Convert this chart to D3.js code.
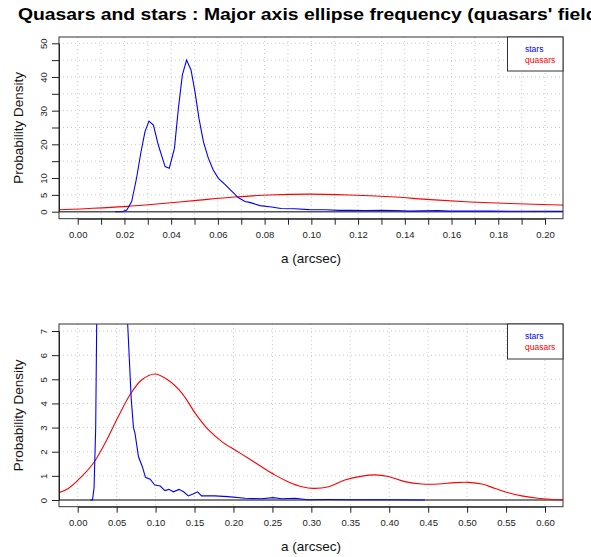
<!DOCTYPE html>
<html>
<head>
<meta charset="utf-8">
<script src="https://cdn.jsdelivr.net/npm/d3@7"></script>
<style>
  body { margin: 0; background: #fff; }
  text { font-family: 'Liberation Sans', Arial, sans-serif; }
</style>
</head>
<body>
<div id="chart"></div>
<script>
// stars density (same curve in both panels)
const starsA = [0.016, 0.019, 0.021, 0.0231, 0.0252, 0.0271, 0.0288, 0.0305, 0.0324, 0.0345, 0.0374, 0.0392,
  0.0414, 0.0431, 0.0448, 0.0466, 0.0485, 0.0502, 0.0519, 0.0538, 0.0559, 0.058, 0.0602, 0.063, 0.0659, 0.0687,
  0.0716, 0.0736, 0.078, 0.083, 0.087, 0.093, 0.099, 0.106, 0.112, 0.117, 0.123, 0.13, 0.136, 0.142, 0.148,
  0.154, 0.159, 0.176, 0.193, 0.215, 0.236, 0.251, 0.262, 0.279, 0.296, 0.32, 0.36, 0.4, 0.446]
const starsD = [0, 0, 0.5, 3, 10, 17.8, 23.8, 26.9, 25.7, 19.8, 13.4, 12.9,
  18.8, 30.7, 40.6, 45, 42.1, 35.6, 27.7, 20.8, 15.9, 12.4, 9.9, 8.1, 6.1, 4.2,
  3.0, 2.76, 1.8, 1.38, 0.94, 0.86, 0.62, 0.58, 0.39, 0.44, 0.34, 0.44, 0.34, 0.17, 0.25,
  0.34, 0.17, 0.17, 0.14, 0.07, 0.05, 0.1, 0.05, 0.07, 0.01, 0.02, 0.01, 0.01, 0]

// quasars density
const quasarsA = [-0.029, -0.012, 0.005, 0.02, 0.035, 0.052, 0.067, 0.082, 0.099, 0.116, 0.134, 0.151, 0.168,
  0.185, 0.202, 0.219, 0.236, 0.253, 0.27, 0.288, 0.303, 0.322, 0.343, 0.365, 0.382, 0.399, 0.42, 0.442,
  0.463, 0.484, 0.502, 0.519, 0.536, 0.553, 0.57, 0.591, 0.617, 0.625]
const quasarsD = [0.25, 0.48, 0.97, 1.52, 2.35, 3.45, 4.35, 4.97, 5.22, 4.97, 4.42, 3.59, 2.9,
  2.42, 2.07, 1.73, 1.38, 1.04, 0.76, 0.55, 0.48, 0.55, 0.83, 0.99, 1.04, 0.97, 0.76, 0.66,
  0.66, 0.72, 0.73, 0.66, 0.48, 0.3, 0.17, 0.07, 0.01, 0.005]

const topXTicks = d3.range(0, 21).map((i) => i / 100)
const topYTicks = d3.range(0, 11).map((i) => i * 5)
const topYLabels = [0, 5, 10, 20, 30, 40, 50]
const botXTicks = d3.range(0, 13).map((i) => i * 0.05)
const botYTicks = d3.range(0, 8)

const title = "Quasars and stars : Major axis ellipse frequency (quasars' field)"
const xTitle = 'a (arcsec)'
const yTitle = 'Probability Density'
const legendNames = ['stars', 'quasars']
const COLORS = { stars: '#0000ff', quasars: '#ff0000' }

const W = 591
const H = 557
const BOX_L = 59
const BOX_R = 563

const svg = d3.select('#chart').append('svg').attr('width', W).attr('height', H)
svg.append('rect').attr('width', W).attr('height', H).attr('fill', '#fff')

// title is wider than the page in the original, so it runs off the right edge
svg
  .append('text')
  .attr('x', (BOX_L + BOX_R) / 2)
  .attr('y', 20)
  .attr('text-anchor', 'middle')
  .attr('font-size', 17)
  .attr('font-weight', 'bold')
  .attr('fill', '#000')
  .attr('textLength', 586)
  .attr('lengthAdjust', 'spacingAndGlyphs')
  .text(title)

const stars = starsA.map((a, i) => ({ a, d: starsD[i] }))
const quasars = quasarsA.map((a, i) => ({ a, d: quasarsD[i] }))

const drawPanel = (cfg) => {
  const { id, x, y, boxTop, boxBottom, xTicks, yTicks, yLabels, xFmt } = cfg
  const g = svg.append('g')

  g.append('clipPath')
    .attr('id', id)
    .append('rect')
    .attr('x', BOX_L)
    .attr('y', boxTop)
    .attr('width', BOX_R - BOX_L)
    .attr('height', boxBottom - boxTop)

  // dotted grid
  g.selectAll('.vg')
    .data(xTicks)
    .join('line')
    .attr('x1', (d) => x(d))
    .attr('x2', (d) => x(d))
    .attr('y1', boxTop)
    .attr('y2', boxBottom)
    .attr('stroke', '#c8c8c8')
    .attr('stroke-dasharray', '1,3')
  g.selectAll('.hg')
    .data(yTicks.filter((d) => d > 0))
    .join('line')
    .attr('x1', BOX_L)
    .attr('x2', BOX_R)
    .attr('y1', (d) => y(d))
    .attr('y2', (d) => y(d))
    .attr('stroke', '#c8c8c8')
    .attr('stroke-dasharray', '1,3')

  // zero line
  g.append('line')
    .attr('x1', BOX_L)
    .attr('x2', BOX_R)
    .attr('y1', y(0))
    .attr('y2', y(0))
    .attr('stroke', '#555')
    .attr('stroke-width', 1.6)

  const line = d3
    .line()
    .x((d) => x(d.a))
    .y((d) => y(d.d))

  const curves = g.append('g').attr('clip-path', `url(#${id})`)
  curves
    .append('path')
    .attr('d', line.curve(d3.curveCatmullRom)(quasars))
    .attr('fill', 'none')
    .attr('stroke', COLORS.quasars)
    .attr('stroke-width', 1.1)
  curves
    .append('path')
    .attr('d', line.curve(d3.curveLinear)(stars))
    .attr('fill', 'none')
    .attr('stroke', COLORS.stars)
    .attr('stroke-width', 1.1)

  // box
  g.append('rect')
    .attr('x', BOX_L)
    .attr('y', boxTop)
    .attr('width', BOX_R - BOX_L)
    .attr('height', boxBottom - boxTop)
    .attr('fill', 'none')
    .attr('stroke', '#333')

  // axes
  const xAxis = g
    .append('g')
    .attr('transform', `translate(0,${boxBottom})`)
    .call(d3.axisBottom(x).tickValues(xTicks).tickFormat(xFmt).tickSize(6).tickSizeOuter(0).tickPadding(7))
  xAxis.select('.domain').attr('stroke', '#222')
  xAxis.selectAll('.tick line').attr('stroke', '#222')
  xAxis.selectAll('.tick text').attr('font-size', 9.5).attr('fill', '#222').attr('font-family', null)

  const yAxis = g
    .append('g')
    .attr('transform', `translate(${BOX_L},0)`)
    .call(
      d3
        .axisLeft(y)
        .tickValues(yTicks)
        .tickFormat((d) => (yLabels.includes(d) ? d : ''))
        .tickSize(7)
        .tickSizeOuter(0)
    )
  yAxis.select('.domain').attr('stroke', '#222')
  yAxis.selectAll('.tick line').attr('stroke', '#222')
  yAxis
    .selectAll('.tick text')
    .attr('x', null)
    .attr('dy', null)
    .attr('text-anchor', 'middle')
    .attr('transform', 'translate(-12,0) rotate(-90)')
    .attr('font-size', 9.5)
    .attr('fill', '#222')
    .attr('font-family', null)

  // titles
  g.append('text')
    .attr('x', (BOX_L + BOX_R) / 2)
    .attr('y', cfg.xTitleY)
    .attr('text-anchor', 'middle')
    .attr('font-size', 13.5)
    .attr('fill', '#111')
    .text(xTitle)
  g.append('text')
    .attr('transform', `translate(23,${(boxTop + boxBottom) / 2}) rotate(-90)`)
    .attr('text-anchor', 'middle')
    .attr('font-size', 13.5)
    .attr('fill', '#111')
    .text(yTitle)

  // legend
  const lg = g.append('g')
  lg.append('rect')
    .attr('x', 507.5)
    .attr('y', boxTop)
    .attr('width', BOX_R - 507.5)
    .attr('height', cfg.legendH)
    .attr('fill', '#fff')
    .attr('stroke', '#333')
  lg.selectAll('.lt')
    .data(legendNames)
    .join('text')
    .attr('x', 525)
    .attr('y', (d, i) => boxTop + 15 + i * 11)
    .attr('font-size', 8.5)
    .attr('fill', (d) => COLORS[d])
    .text((d) => d)
}

drawPanel({
  id: 'clipTop',
  x: d3.scaleLinear().domain([0, 0.2]).range([77.7, 545]),
  y: d3.scaleLinear().domain([0, 50]).range([211.7, 43.3]),
  boxTop: 37,
  boxBottom: 218.7,
  xTicks: topXTicks,
  yTicks: topYTicks,
  yLabels: topYLabels,
  xFmt: (d) => (Math.round(d * 100) % 2 === 0 ? d3.format('.2f')(d) : ''),
  xTitleY: 263,
  legendH: 34,
})

drawPanel({
  id: 'clipBot',
  x: d3.scaleLinear().domain([0, 0.6]).range([77.7, 545]),
  y: d3.scaleLinear().domain([0, 7]).range([500, 331]),
  boxTop: 324,
  boxBottom: 506.7,
  xTicks: botXTicks,
  yTicks: botYTicks,
  yLabels: botYTicks,
  xFmt: d3.format('.2f'),
  xTitleY: 551,
  legendH: 35,
})
</script>
</body>
</html>
